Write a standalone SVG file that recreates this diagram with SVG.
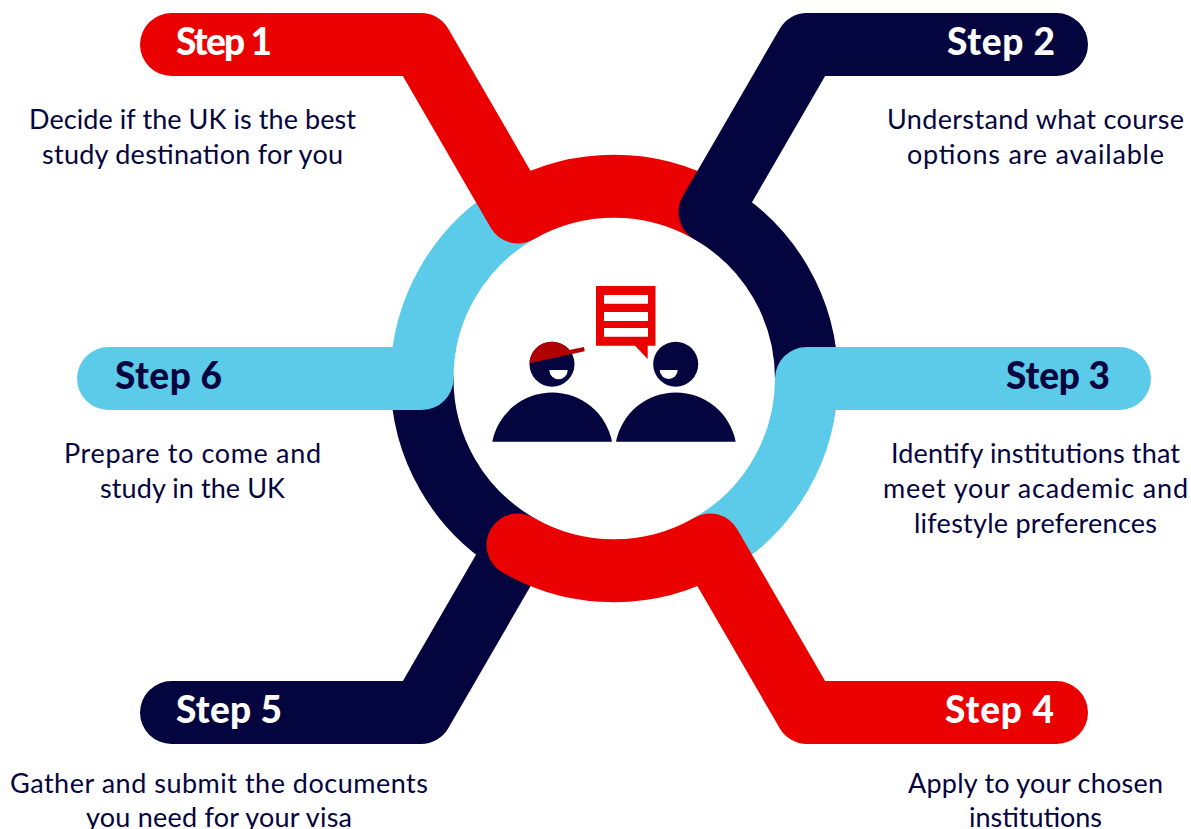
<svg xmlns="http://www.w3.org/2000/svg" width="1191" height="829" viewBox="0 0 1191 829">
<style>
.c{fill:none;stroke-width:63;stroke-linecap:round;stroke-linejoin:round}
.red{stroke:#eb0000}.navy{stroke:#04043f}.sky{stroke:#5bcbe9}
text{font-family:"Lato","Noto Sans",sans-serif}
.s{font-size:37px;font-weight:900}
.b{font-size:27px;fill:#04043f}
.w{fill:#fff}.nf{fill:#04043f}
</style>
<rect width="1191" height="829" fill="#fff"/>
<g id="connectors">
<path class="c navy" d="M171.5,712.500H421L518,545A192,192 0 0 1 422,378.500"/>
<path class="c sky" d="M108.500,378.500H422A192,192 0 0 1 518,212"/>
<path class="c red" d="M171.500,44.500H421L518,212A192,192 0 0 1 710,212"/>
<path class="c navy" d="M1056.500,44.500H807L710,212A192,192 0 0 1 806.500,378.500"/>
<path class="c sky" d="M1119.500,378.500H806.500A192,192 0 0 1 710,545"/>
<path class="c red" d="M1056.500,712.500H807L710,545A192,192 0 0 1 518,545"/>
</g>
<g id="step1"><text class="s w" x="176" y="55" textLength="96">Step 1</text><text class="b" x="29" y="129" textLength="327">Decide if the UK is the best</text><text class="b" x="42" y="163.500" textLength="301">study destination for you</text></g>
<g id="step2"><text class="s w" x="947" y="55" textLength="108">Step 2</text><text class="b" x="887" y="129" textLength="297">Understand what course</text><text class="b" x="907" y="163.500" textLength="257">options are available</text></g>
<g id="step3"><text class="s nf" x="1006" y="389" textLength="104">Step 3</text><text class="b" x="891" y="463" textLength="289">Identify institutions that</text><text class="b" x="883" y="497.500" textLength="305">meet your academic and</text><text class="b" x="914" y="532.500" textLength="243">lifestyle preferences</text></g>
<g id="step4"><text class="s w" x="945" y="723" textLength="109">Step 4</text><text class="b" x="908" y="793" textLength="255">Apply to your chosen</text><text class="b" x="969" y="827" textLength="133">institutions</text></g>
<g id="step5"><text class="s w" x="176" y="723" textLength="106">Step 5</text><text class="b" x="10" y="793" textLength="418">Gather and submit the documents</text><text class="b" x="86" y="827" textLength="266">you need for your visa</text></g>
<g id="step6"><text class="s nf" x="115" y="389" textLength="107">Step 6</text><text class="b" x="64" y="463" textLength="257">Prepare to come and</text><text class="b" x="100" y="497.500" textLength="185">study in the UK</text></g>
<g id="icon">
<path fill="#eb0000" d="M596,286H655.500V345.700H647.700V359L635,345.700H596Z"/>
<path class="w" d="M604,295H648V303.700H604ZM604,312H648V321H604ZM604,328H648V336.700H604Z"/>
<circle class="nf" cx="552" cy="364.200" r="22.500"/>
<path fill="#b00000" d="M529.500,363.200A22.500,22.500 0 0 1 569.500,350.100L584,347L584.700,351.300Z"/>
<path class="w" d="M549.300,370H567.700A9.200,9.200 0 0 1 549.300,370Z"/>
<circle class="nf" cx="675.700" cy="364.200" r="22.500"/>
<path class="w" d="M659.700,370H677.700A9,9 0 0 1 659.700,370Z"/>
<path class="nf" d="M492.300,441.700A61,61 0 0 1 612,441.700Z"/>
<path class="nf" d="M616,441.700A61,61 0 0 1 735.700,441.700Z"/>
</g>
</svg>
